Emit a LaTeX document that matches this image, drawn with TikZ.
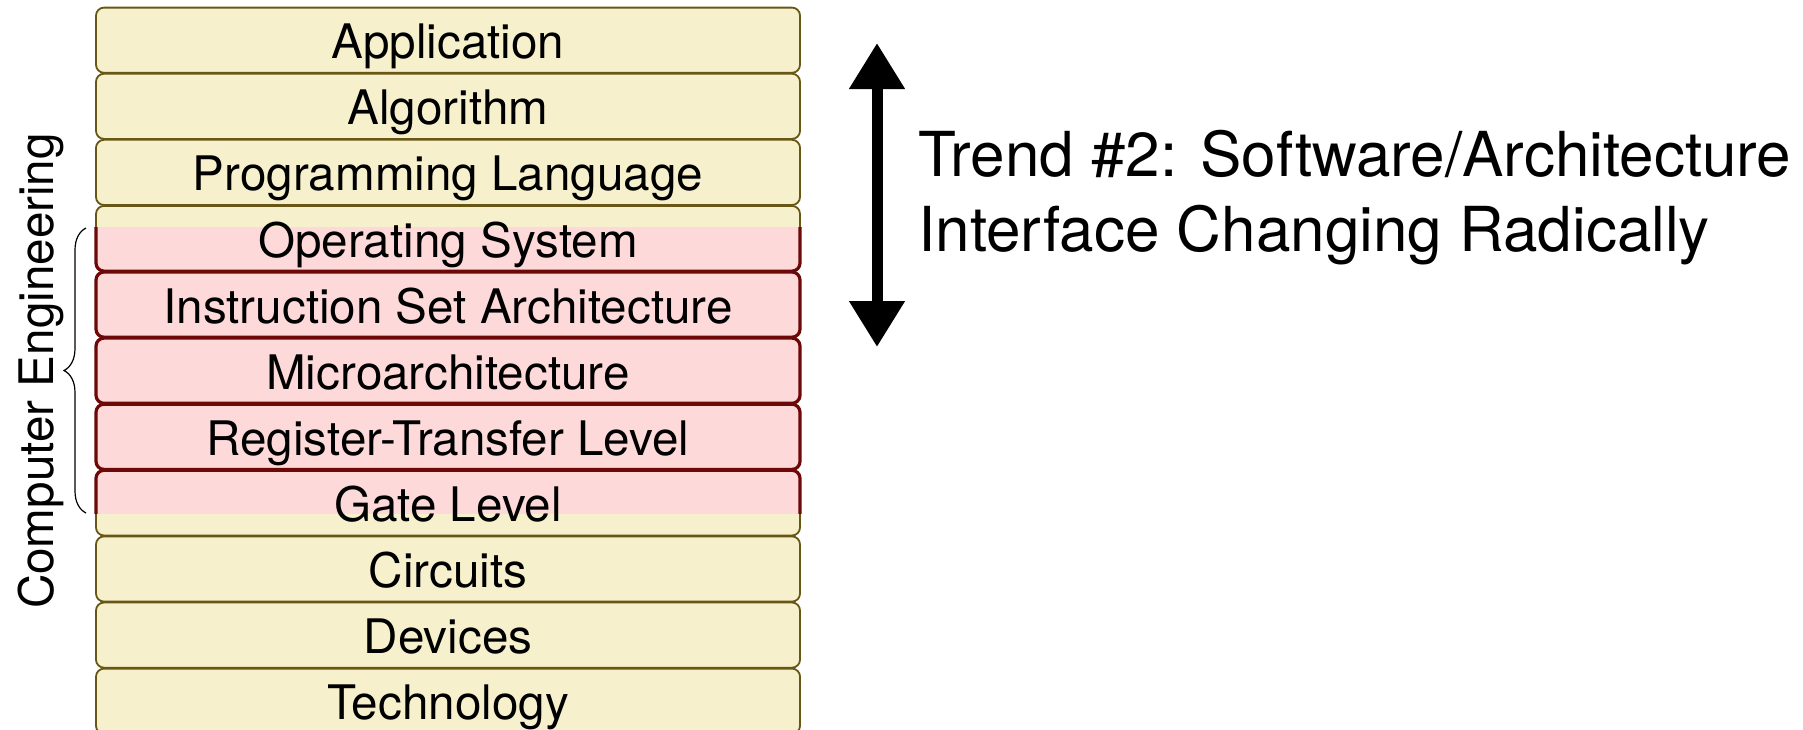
\documentclass[tikz,border=0pt]{standalone}
\usepackage{fontspec}
\setmainfont{TeX Gyre Heros}
\usetikzlibrary{arrows.meta,decorations.pathreplacing}

\definecolor{layerfill}{RGB}{246,241,204}
\definecolor{layeredge}{RGB}{104,86,20}
\definecolor{cefill}{RGB}{253,217,217}
\definecolor{ceedge}{RGB}{108,8,8}

\begin{document}
\begin{tikzpicture}[x=0.5pt,y=-0.5pt,
  layerbox/.style={draw=layeredge, fill=layerfill, line width=0.9pt, rounded corners=4pt},
  cebox/.style={draw=ceedge, fill=cefill, line width=1.6pt, rounded corners=4pt},
  layerlabel/.style={anchor=base, inner sep=0pt, font=\fontsize{23.8pt}{28pt}\selectfont},
  trendtext/.style={anchor=base west, inner sep=0pt, font=\fontsize{31pt}{37pt}\selectfont},
  bigarrow/.style={line width=5.5pt, {Triangle[length=23pt,width=26.5pt]}-{Triangle[length=23pt,width=26.5pt]}},
]
\useasboundingbox (0,0) rectangle (1803,729);

% the abstraction stack
\foreach \i in {0,...,10} {
  \draw[layerbox] (96,{7.6+66.1*\i}) rectangle (800,{72.8+66.1*\i});
}

% computer engineering layers, highlighted
\begin{scope}
  \clip (80,227.7) rectangle (820,513.3);
  \foreach \i in {3,...,7} {
    \draw[cebox] (96,{7.6+66.1*\i}) rectangle (800,{72.8+66.1*\i});
  }
\end{scope}

% layer names
\foreach \i/\t in {0/Application,1/Algorithm,2/Programming Language,3/Operating System,
                   4/Instruction Set Architecture,5/Microarchitecture,6/Register-Transfer Level,
                   7/Gate Level,8/Circuits,9/Devices,10/Technology} {
  \node[layerlabel] (L\i) at (448,{58.7+66.1*\i}) {\t};
}

% brace and side label
\coordinate (ceTop) at (86,228);
\coordinate (ceBot) at (86,513);
\draw[line width=0.6pt, decorate, decoration={brace, amplitude=11pt}] (ceBot) -- (ceTop);
\node[anchor=base, rotate=90, inner sep=0pt, font=\fontsize{23.8pt}{28pt}\selectfont]
  (ce) at (54,371) {Computer Engineering};

% double-headed arrow and trend text
\coordinate (arrTop) at (877,43);
\coordinate (arrBot) at (877,347);
\draw[bigarrow] (arrTop) -- (arrBot);
\node[trendtext] (trend1) at (918,176) {Trend \#2: Software/Architecture};
\node[trendtext] (trend2) at (918,251) {Interface Changing Radically};
\end{tikzpicture}
\end{document}
